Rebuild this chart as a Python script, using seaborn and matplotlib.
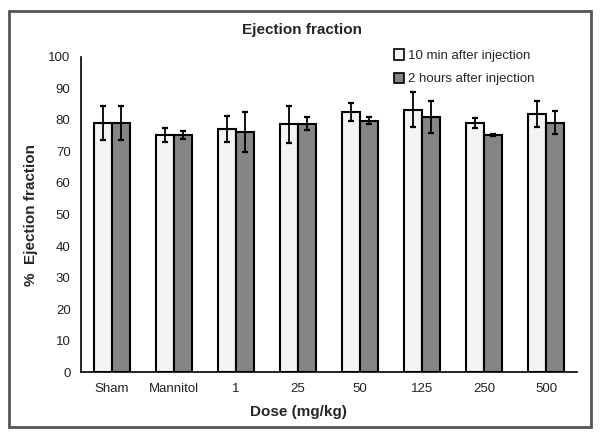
import numpy as np
import pandas as pd
import matplotlib
matplotlib.use('Agg')
import matplotlib.pyplot as plt
from matplotlib.patches import Rectangle, Patch
import seaborn as sns

sns.set_theme(style='white')
plt.rcParams['font.family'] = ['Liberation Sans', 'DejaVu Sans']

# data
doses = ['Sham', 'Mannitol', '1', '25', '50', '125', '250', '500']
series = ['10 min after injection', '2 hours after injection']
ef_10min = [79.0, 75.3, 77.2, 78.6, 82.6, 83.3, 79.1, 81.9]
err_10min = [5.3, 2.3, 4.1, 5.9, 2.9, 5.6, 1.6, 4.1]
ef_2h = [79.0, 75.3, 76.1, 78.8, 79.8, 80.9, 75.2, 79.2]
err_2h = [5.3, 1.3, 6.3, 2.1, 1.2, 5.1, 0.4, 3.7]

df = pd.DataFrame({
    'dose': doses * 2,
    'when': [series[0]] * len(doses) + [series[1]] * len(doses),
    'ef': ef_10min + ef_2h,
    'err': err_10min + err_2h,
})

colors = ['#f4f4f4', '#858585']

fig = plt.figure(figsize=(6.02, 4.37), dpi=100)
ax = fig.add_axes([0.1346, 0.1487, 0.8239, 0.7209])

sns.barplot(data=df, x='dose', y='ef', hue='when', order=doses, hue_order=series,
            palette=colors, width=0.58, edgecolor='black', linewidth=1.5,
            errorbar=None, legend=False, ax=ax)

# error bars at bar centres (patches come hue by hue)
bars = [p for p in ax.patches if isinstance(p, Rectangle)][:len(df)]
xs = [p.get_x() + p.get_width() / 2 for p in bars]
ax.errorbar(xs, df['ef'], yerr=df['err'], fmt='none', ecolor='black',
            elinewidth=1.3, capsize=2.5, capthick=1.6, zorder=5)

ax.set_ylim(0, 100)
ax.set_xlim(-0.5, len(doses) - 0.5)
ax.set_yticks(np.arange(0, 101, 10))
ax.set_xticks(np.arange(len(doses)))
ax.set_xticklabels(doses)
ax.set_xticks(np.arange(-0.5, len(doses), 1), minor=True)
ax.tick_params(axis='x', which='major', length=0, labelsize=9.5, pad=8, colors='#222222')
ax.tick_params(axis='x', which='minor', length=4, width=1.2, color='black', direction='out')
ax.tick_params(axis='y', length=4, width=1.2, color='black', direction='out',
               labelsize=9.5, labelcolor='#222222')
for side in ['top', 'right']:
    ax.spines[side].set_visible(False)
for side in ['left', 'bottom']:
    ax.spines[side].set_color('black')
    ax.spines[side].set_linewidth(1.2)

ax.set_xlabel('Dose (mg/kg)', fontsize=11, fontweight='bold')
ax.xaxis.set_label_coords((298 - 81) / 496, -0.104)
ax.set_ylabel('%  Ejection fraction', fontsize=11, fontweight='bold')
ax.yaxis.set_label_coords(-0.087, 0.5)

fig.text(0.502, 0.931, 'Ejection fraction', ha='center', va='center',
         fontsize=11, fontweight='bold')

handles = [Patch(facecolor=c, edgecolor='black', linewidth=1.2) for c in colors]
fig.legend(handles, series, loc='upper left', bbox_to_anchor=(0.645, 0.899),
           frameon=False, fontsize=9.5, handlelength=0.8, handleheight=0.8,
           handletextpad=0.3, labelspacing=0.8, borderaxespad=0)

fig.patches.append(Rectangle((0.015, 0.022), 0.967, 0.953, transform=fig.transFigure,
                             fill=False, edgecolor='#555555', linewidth=2))

fig.savefig('out.png', dpi=100)
